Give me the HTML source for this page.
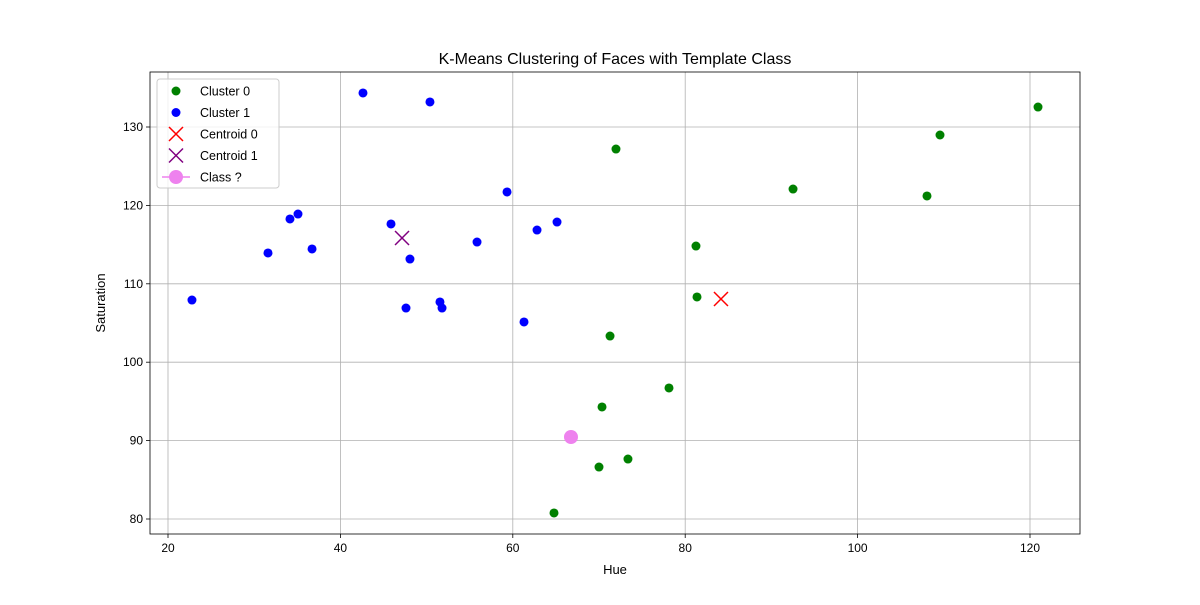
<!DOCTYPE html>
<html><head><meta charset="utf-8"><style>
body{margin:0;background:#fff;font-family:"Liberation Sans","DejaVu Sans",sans-serif}
</style></head><body>
<svg id="chart" width="1200" height="600" xmlns="http://www.w3.org/2000/svg"></svg>
<script>
const cluster0X=[71.97,120.93,109.56,92.51,108.05,81.25,81.37,71.28,78.12,70.35,73.36,70.0,64.78];
const cluster0Y=[127.19,132.55,128.98,122.09,121.2,114.82,108.32,103.34,96.71,94.29,87.65,86.63,80.77];
const cluster1X=[42.62,50.39,59.33,35.08,34.15,45.87,65.13,62.81,55.85,36.71,31.6,48.07,22.78,51.55,51.79,47.61,61.3];
const cluster1Y=[134.34,133.19,121.71,118.9,118.27,117.63,117.88,116.86,115.33,114.44,113.93,113.16,107.93,107.68,106.91,106.91,105.13];
const centroid0=[84.15,108.06];
const centroid1=[47.15,115.84];
const classPoint=[66.75,90.46];
const xTicks=[20,40,60,80,100,120];
const yTicks=[80,90,100,110,120,130];

const NS="http://www.w3.org/2000/svg";
const svg=document.getElementById('chart');
const L=150,R=1080,T=72,B=534;
const sx=v=>168+(v-20)*8.62;
const sy=v=>519-(v-80)*7.84;
function mk(tag,attrs,parent){const e=document.createElementNS(NS,tag);for(const k in attrs)e.setAttribute(k,attrs[k]);(parent||svg).appendChild(e);return e;}

const grid=mk('g',{});


xTicks.forEach(t=>{
  mk('line',{x1:sx(t),x2:sx(t),y1:T,y2:B,stroke:'#b0b0b0','stroke-width':0.8},grid);
  mk('line',{x1:sx(t),x2:sx(t),y1:B,y2:B+4,stroke:'#000','stroke-width':0.8});
  const tx=mk('text',{x:sx(t),y:B+18,'text-anchor':'middle','font-size':12});
  tx.textContent=t;
  
  
});
yTicks.forEach(t=>{
  mk('line',{x1:L,x2:R,y1:sy(t),y2:sy(t),stroke:'#b0b0b0','stroke-width':0.8},grid);
  mk('line',{x1:L-4,x2:L,y1:sy(t),y2:sy(t),stroke:'#000','stroke-width':0.8});
  const tx=mk('text',{x:L-7,y:sy(t)+4,'text-anchor':'end','font-size':12});
  tx.textContent=t;
  
  
});
const frame=mk('rect',{x:L,y:T,width:R-L,height:B-T,fill:'none',stroke:'#000','stroke-width':0.8});



cluster0X.forEach((x,i)=>{const c=mk('circle',{cx:sx(x),cy:sy(cluster0Y[i]),r:4.5,fill:'green'});

});
cluster1X.forEach((x,i)=>{const c=mk('circle',{cx:sx(x),cy:sy(cluster1Y[i]),r:4.5,fill:'blue'});

});
function cross(cx,cy,col,name,s){const g=mk('g',{stroke:col,'stroke-width':1.5});


mk('line',{x1:cx-s,y1:cy-s,x2:cx+s,y2:cy+s},g);mk('line',{x1:cx-s,y1:cy+s,x2:cx+s,y2:cy-s},g);}
cross(sx(centroid0[0]),sy(centroid0[1]),'red','centroid-0',7);
cross(sx(centroid1[0]),sy(centroid1[1]),'purple','centroid-1',7);
const cp=mk('circle',{cx:sx(classPoint[0]),cy:sy(classPoint[1]),r:7,fill:'violet'});



const title=mk('text',{x:615,y:64,'text-anchor':'middle','font-size':16});title.textContent='K-Means Clustering of Faces with Template Class';


const xl=mk('text',{x:615,y:574,'text-anchor':'middle','font-size':13});xl.textContent='Hue';


const yl=mk('text',{x:105,y:303,'text-anchor':'middle','font-size':13,transform:'rotate(-90 105 303)'});yl.textContent='Saturation';



const lg=mk('g',{});


mk('rect',{x:157,y:79,width:122,height:109,rx:3,fill:'#fff','fill-opacity':0.8,stroke:'#ccc'},lg);
const entries=[['Cluster 0','dot','green'],['Cluster 1','dot','blue'],['Centroid 0','x','red'],['Centroid 1','x','purple'],[' Class ?','line','violet']];
entries.forEach((e,i)=>{const y=91+i*21.5;const g=mk('g',{},lg);


if(e[1]==='dot')mk('circle',{cx:176,cy:y,r:4.5,fill:e[2]},g);
else if(e[1]==='x'){mk('line',{x1:169,y1:y-7,x2:183,y2:y+7,stroke:e[2],'stroke-width':1.5},g);mk('line',{x1:169,y1:y+7,x2:183,y2:y-7,stroke:e[2],'stroke-width':1.5},g);}
else{mk('line',{x1:162,y1:y,x2:190,y2:y,stroke:e[2],'stroke-width':1.5},g);mk('circle',{cx:176,cy:y,r:7,fill:e[2]},g);}
const t=mk('text',{x:200,y:y+4.5,'font-size':12.5,'xml:space':'preserve'},g);t.textContent=e[0];});
</script>
</body></html>
